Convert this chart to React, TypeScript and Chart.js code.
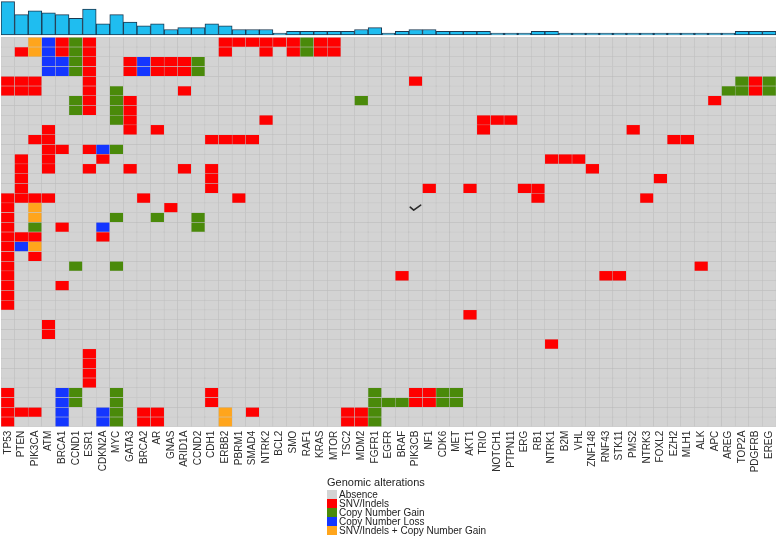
import React, { useEffect, useRef } from 'react';
import { Chart, registerables } from 'chart.js';

Chart.register(...registerables);

// Genes (columns), left to right
const genes = [
  'TP53', 'PTEN', 'PIK3CA', 'ATM', 'BRCA1', 'CCND1', 'ESR1', 'CDKN2A', 'MYC', 'GATA3',
  'BRCA2', 'AR', 'GNAS', 'ARID1A', 'CCND2', 'CDH1', 'ERBB2', 'PBRM1', 'SMAD4', 'NTRK2',
  'BCL2', 'SMO', 'RAF1', 'KRAS', 'MTOR', 'TSC2', 'MDM2', 'FGFR1', 'EGFR', 'BRAF',
  'PIK3CB', 'NF1', 'CDK6', 'MET', 'AKT1', 'TRIO', 'NOTCH1', 'PTPN11', 'ERG', 'RB1',
  'NTRK1', 'B2M', 'VHL', 'ZNF148', 'RNF43', 'STK11', 'PMS2', 'NTRK3', 'FOXL2', 'EZH2',
  'MLH1', 'ALK', 'APC', 'AREG', 'TOP2A', 'PDGFRB', 'EREG',
];

// Number of altered samples per gene (top bar panel)
const alterationCounts = [
  18, 11, 13, 12, 11, 9, 14, 6, 11, 7,
  5, 6, 3, 4, 4, 6, 5, 3, 3, 3,
  1, 2, 2, 2, 2, 2, 3, 4, 1, 2,
  3, 3, 2, 2, 2, 2, 1, 1, 1, 2,
  2, 1, 1, 1, 1, 1, 1, 1, 1, 1,
  1, 1, 1, 1, 2, 2, 2,
];

// One entry per sample (row, top to bottom): "<geneIndex><code>"
// R = SNV/Indels, G = Copy Number Gain, B = Copy Number Loss, O = SNV/Indels + Copy Number Gain
const alterationRows = [
  '2O 3B 4R 5G 6R 16R 17R 18R 19R 20R 21R 22G 23R 24R',
  '1R 2O 3B 4R 5G 6R 16R 19R 21R 22G 23R 24R',
  '3B 4B 5G 6R 9R 10B 11R 12R 13R 14G',
  '3B 4B 5G 6R 9R 10B 11R 12R 13R 14G',
  '0R 1R 2R 6R 30R 54G 55R 56G',
  '0R 1R 2R 6R 8G 13R 53G 54G 55R 56G',
  '5G 6R 8G 9R 26G 52R',
  '5G 6R 8G 9R',
  '8G 9R 19R 35R 36R 37R',
  '3R 9R 11R 35R 46R',
  '2R 3R 15R 16R 17R 18R 49R 50R',
  '3R 4R 6R 7B 8G',
  '1R 3R 7R 40R 41R 42R',
  '1R 3R 6R 9R 13R 15R 43R',
  '1R 15R 48R',
  '1R 15R 31R 34R 38R 39R',
  '0R 1R 2R 3R 10R 17R 39R 47R',
  '0R 2O 12R',
  '0R 2O 8G 11G 14G',
  '0R 2G 4R 7B 14G',
  '0R 1R 2R 7R',
  '0R 1B 2O',
  '0R 2R',
  '0R 5G 8G 51R',
  '0R 29R 44R 45R',
  '0R 4R',
  '0R',
  '0R',
  '34R',
  '3R',
  '3R',
  '40R',
  '6R',
  '6R',
  '6R',
  '6R',
  '0R 4B 5G 8G 15R 27G 30R 31R 32G 33G',
  '0R 4B 5G 8G 15R 27G 28G 29G 30R 31R 32G 33G',
  '0R 1R 2R 4B 7B 8G 10R 11R 16O 18R 25R 26R 27G',
  '0R 4B 7B 8G 10R 11R 16O 25R 26R 27G',
];

// [row, geneIndex] of the small check mark
const checkMarks = [[17, 30]];

const legendTitle = 'Genomic alterations';
const legendCodes = ['.', 'R', 'G', 'B', 'O'];
const legendLabels = [
  'Absence',
  'SNV/Indels',
  'Copy Number Gain',
  'Copy Number Loss',
  'SNV/Indels + Copy Number Gain',
];

const colorByCode: Record<string, string> = {
  '.': '#d3d3d3',
  R: '#ff0000',
  G: '#4a8a0a',
  B: '#1436ff',
  O: '#ffa51c',
};

const FONT = '"Liberation Sans", Arial, Helvetica, sans-serif';

function parseRow(spec: string): string[] {
  const codes = genes.map(() => '.');
  spec
    .split(' ')
    .filter(Boolean)
    .forEach((tok) => {
      const idx = parseInt(tok, 10);
      codes[idx] = tok.replace(/^\d+/, '');
    });
  return codes;
}

const checkPlugin = {
  id: 'checkMarks',
  afterDatasetsDraw(chart: any) {
    const { ctx } = chart;
    const xs = chart.scales.x;
    const ys = chart.scales.yGrid;
    ctx.save();
    ctx.strokeStyle = '#2a2a2a';
    ctx.lineWidth = 1.6;
    ctx.lineCap = 'round';
    ctx.lineJoin = 'round';
    for (const [r, c] of checkMarks) {
      const cx = xs.getPixelForValue(c);
      const cy = ys.getPixelForValue(r + 0.5);
      ctx.beginPath();
      ctx.moveTo(cx - 5.5, cy - 0.5);
      ctx.lineTo(cx - 2, cy + 2.5);
      ctx.lineTo(cx + 5, cy - 2.5);
      ctx.stroke();
    }
    ctx.restore();
  },
};

export default function App() {
  const ref = useRef<HTMLCanvasElement | null>(null);

  useEffect(() => {
    if (!ref.current) return;

    const rowDatasets = alterationRows.map((spec, r) => {
      const codes = parseRow(spec);
      return {
        type: 'bar' as const,
        label: `sample ${r + 1}`,
        yAxisID: 'yGrid',
        data: genes.map(() => [r, r + 1]),
        backgroundColor: codes.map((k) => colorByCode[k]),
        borderColor: '#bcbcbc',
        borderWidth: 0.5,
        borderSkipped: false,
        barPercentage: 1,
        categoryPercentage: 1,
        grouped: false,
      };
    });

    const countDataset = {
      type: 'bar' as const,
      label: 'count',
      yAxisID: 'yBar',
      data: alterationCounts,
      backgroundColor: '#1fbdf0',
      borderColor: '#1c3850',
      borderWidth: 1,
      borderSkipped: false,
      barPercentage: 1,
      categoryPercentage: 1,
      grouped: false,
    };

    const chart = new Chart(ref.current, {
      type: 'bar',
      data: {
        labels: genes,
        datasets: [countDataset, ...rowDatasets] as any,
      },
      options: {
        animation: false,
        responsive: true,
        maintainAspectRatio: false,
        layout: { padding: { left: 1, right: 2, top: 0, bottom: 0 } },
        plugins: {
          legend: { display: false },
          tooltip: { enabled: false },
        },
        scales: {
          x: {
            type: 'category',
            offset: true,
            grid: { display: false, drawTicks: false },
            border: { display: false },
            ticks: {
              autoSkip: false,
              minRotation: 90,
              maxRotation: 90,
              padding: 4,
              color: '#2b2b2b',
              font: { family: FONT, size: 10 },
            },
            afterFit: (s: any) => {
              s.height = 51.3;
              s.paddingLeft = 0;
              s.paddingRight = 0;
            },
          },
          yBar: {
            type: 'linear',
            position: 'left',
            stack: 'main',
            stackWeight: 37.3,
            weight: 2,
            min: -1.24,
            max: 18.92,
            grid: { display: false, drawTicks: false },
            border: { display: false },
            ticks: { display: false },
          },
          yGrid: {
            type: 'linear',
            position: 'left',
            stack: 'main',
            stackWeight: 389.4,
            weight: 1,
            min: 0,
            max: alterationRows.length,
            reverse: true,
            grid: { display: false, drawTicks: false },
            border: { display: false },
            ticks: { display: false },
          },
        } as any,
      },
      plugins: [checkPlugin],
    });

    return () => chart.destroy();
  }, []);

  return (
    <div
      style={{
        position: 'absolute',
        left: 0,
        top: 0,
        width: 778,
        height: 539,
        background: '#ffffff',
        fontFamily: FONT,
        overflow: 'hidden',
      }}
    >
      <div style={{ position: 'absolute', left: 0, top: 0, width: 778, height: 478 }}>
        <canvas ref={ref} />
      </div>
      <div style={{ position: 'absolute', left: 327, top: 475, color: '#222' }}>
        <div style={{ fontSize: 11, lineHeight: '14px', whiteSpace: 'nowrap', marginBottom: 1 }}>
          {legendTitle}
        </div>
        {legendLabels.map((lab, i) => (
          <div
            key={lab}
            style={{ display: 'flex', alignItems: 'center', height: 9, whiteSpace: 'nowrap' }}
          >
            <span
              style={{
                display: 'inline-block',
                width: 10,
                height: 9,
                background: colorByCode[legendCodes[i]],
                marginRight: 2,
              }}
            />
            <span style={{ fontSize: 10, lineHeight: '9px' }}>{lab}</span>
          </div>
        ))}
      </div>
    </div>
  );
}
